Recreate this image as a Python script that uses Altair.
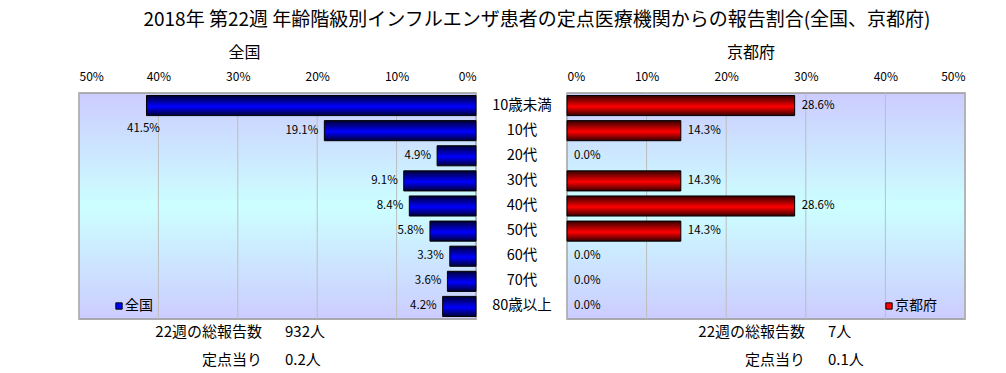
import altair as alt
import pandas as pd

categories = ["10歳未満", "10代", "20代", "30代", "40代", "50代", "60代", "70代", "80歳以上"]
national = [41.5, 19.1, 4.9, 9.1, 8.4, 5.8, 3.3, 3.6, 4.2]
kyoto = [28.6, 14.3, 0.0, 14.3, 28.6, 14.3, 0.0, 0.0, 0.0]
ticks = [0, 10, 20, 30, 40, 50]
summary_labels = ["22週の総報告数", "定点当り"]
national_summary = ["932人", "0.2人"]
kyoto_summary = ["7人", "0.1人"]
title_text = "2018年 第22週 年齢階級別インフルエンザ患者の定点医療機関からの報告割合(全国、京都府)"

FONT = "Noto Sans CJK JP"
WL, WR, H = 397, 398, 226

df = pd.DataFrame({"category": categories, "national": national, "kyoto": kyoto})
df_ticks = pd.DataFrame({"t": ticks})
one = pd.DataFrame({"k": [0]})


def grad(dark, bright):
    return alt.LinearGradient(
        gradient="linear", x1=0, x2=0, y1=0, y2=1,
        stops=[alt.GradientStop(offset=0, color=dark),
               alt.GradientStop(offset=0.55, color=bright),
               alt.GradientStop(offset=1, color=dark)])


bg_grad = alt.LinearGradient(
    gradient="linear", x1=0, x2=0, y1=0, y2=1,
    stops=[alt.GradientStop(offset=0, color="#ccccff"),
           alt.GradientStop(offset=0.5, color="#ccffff"),
           alt.GradientStop(offset=1, color="#ccccff")])

yenc = alt.Y("category:N", sort=categories,
             scale=alt.Scale(paddingInner=0.2, paddingOuter=0.1), axis=None)


def panel(field, W, reverse, dark, bright, legend_name, legend_x, summary, sum_lab_x, sum_val_x, title, title_dx):
    xs = alt.Scale(domain=[0, 50], reverse=reverse)
    xaxis = alt.Axis(orient="top", values=ticks, labelExpr="datum.value + '%'",
                     grid=False, domain=False, ticks=False, labelFontSize=12,
                     labelPadding=10, labelFont=FONT, title=None)
    bg = alt.Chart(one).mark_rect(fill=bg_grad, stroke="#999999", strokeWidth=1.5).encode(
        x=alt.value(0), x2=alt.value(W), y=alt.value(0), y2=alt.value(H))
    grid = alt.Chart(df_ticks).mark_rule(color="#bdbdbd", strokeWidth=1).encode(
        x=alt.X("t:Q", scale=xs, axis=xaxis), y=alt.value(0), y2=alt.value(H))
    base = alt.Chart(df).transform_calculate(
        lab="format(datum." + field + ", '.1f') + '%'")
    bars = base.transform_filter("datum." + field + " > 0").mark_bar(
        fill=grad(dark, bright), stroke="black", strokeWidth=1).encode(
        x=alt.X(field + ":Q", scale=xs, axis=xaxis), y=yenc)
    layers = [bg, grid, bars]
    if reverse:
        lab_in = base.transform_filter("datum." + field + " <= 30").mark_text(
            align="right", baseline="middle", dx=-6, fontSize=11.5, font=FONT).encode(
            x=alt.X(field + ":Q", scale=xs), y=yenc, text="lab:N")
        lab_out = base.transform_filter("datum." + field + " > 30").mark_text(
            align="center", baseline="middle", dx=-3, dy=23, fontSize=11.5, font=FONT).encode(
            x=alt.X(field + ":Q", scale=xs), y=yenc, text="lab:N")
        layers += [lab_in, lab_out]
    else:
        lab = base.mark_text(align="left", baseline="middle", dx=7, fontSize=11.5, font=FONT).encode(
            x=alt.X(field + ":Q", scale=xs), y=yenc, text="lab:N")
        cat = alt.Chart(df).mark_text(align="center", baseline="middle", fontSize=14.5, font=FONT).encode(
            x=alt.value(-45), y=yenc, text="category:N")
        layers += [lab, cat]
    leg_sq = alt.Chart(one).mark_square(size=40, fill=bright, stroke="black", strokeWidth=1, opacity=1).encode(
        x=alt.value(legend_x), y=alt.value(213))
    leg_tx = alt.Chart(pd.DataFrame({"n": [legend_name]})).mark_text(
        align="left", baseline="middle", fontSize=14, font=FONT).encode(
        x=alt.value(legend_x + 6), y=alt.value(213), text="n:N")
    layers += [leg_sq, leg_tx]
    for i, (sl, sv) in enumerate(zip(summary_labels, summary)):
        yy = 239 + 28 * i
        layers.append(alt.Chart(pd.DataFrame({"s": [sl]})).mark_text(
            align="right", baseline="middle", fontSize=15, font=FONT).encode(
            x=alt.value(sum_lab_x), y=alt.value(yy), text="s:N"))
        layers.append(alt.Chart(pd.DataFrame({"s": [sv]})).mark_text(
            align="left", baseline="middle", fontSize=15, font=FONT).encode(
            x=alt.value(sum_val_x), y=alt.value(yy), text="s:N"))
    return alt.layer(*layers).properties(
        width=W, height=H,
        title=alt.TitleParams(title, fontSize=16, font=FONT, fontWeight="normal",
                              anchor="middle", dx=title_dx, offset=9))


left = panel("national", WL, True, "#000033", "#0000ff", "全国", 40,
             national_summary, 183, 206, "全国", -33)
right = panel("kyoto", WR, False, "#330000", "#ff0000", "京都府", 322,
              kyoto_summary, 238, 261, "京都府", -15)

chart = alt.hconcat(left, right, spacing=91, bounds="flush",
                    padding={"left": 69, "top": 2, "right": 5, "bottom": 0},
                    title=alt.TitleParams(title_text, fontSize=19, font=FONT,
                                          fontWeight="normal", anchor="middle", dx=15,
                                          offset=15)
                    ).configure_view(stroke=None).configure(background="white")

chart.save("out.html", embed_options={"renderer": "svg", "actions": False})
